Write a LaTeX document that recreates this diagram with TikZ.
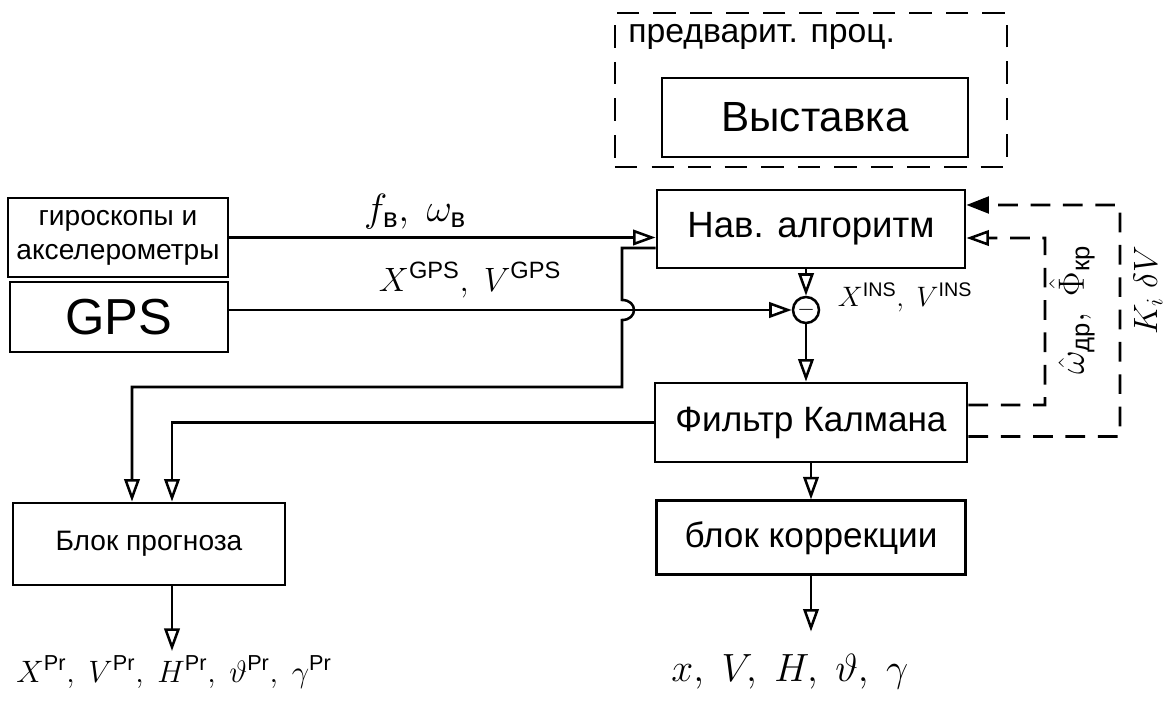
\RequirePackage{fix-cm}
\documentclass[tikz,border=0pt]{standalone}
\usepackage{amsmath}
\usepackage{fontspec}
\setmainfont{Liberation Sans}
\usetikzlibrary{arrows.meta,positioning,calc}

\begin{document}
\begin{tikzpicture}[
    x=0.025cm, y=-0.025cm,
    fs/.style={font=\fontsize{#1}{#1}\selectfont},
    blk/.style={draw, line width=2pt, inner sep=2pt, align=center},
    arr/.style={-{Triangle[open,length=16pt,width=11pt]}, line width=1.8pt},
    fb/.style={dash pattern=on 14pt off 9pt, line width=1.8pt}
]
\useasboundingbox (0,0) rectangle (1167,716);
\node[blk, dash pattern=on 16pt off 10pt, line width=1.8pt, minimum width=9.8cm, minimum height=3.85cm] (pre) at (811,90) {};
\node[anchor=north west, inner sep=0pt, fs=24] (prelbl) at (628,24) {предварит. проц.};
\node[blk, fs=30, minimum width=7.65cm, minimum height=1.975cm] (vyst) at (815,117.5) {Выставка};
\node[blk, fs=20, minimum width=5.5cm, minimum height=1.975cm] (gyro) at (118,237.5) {гироскопы и\\[4pt]акселерометры};
\node[blk, fs=36, minimum width=5.45cm, minimum height=1.75cm] (gps) at (119,317) {GPS};
\node[blk, fs=26, minimum width=7.7cm, minimum height=1.95cm] (nav) at (811,229) {Нав. алгоритм};
\node[draw, circle, line width=1.8pt, minimum size=0.65cm, inner sep=0pt, fs=16] (sum) at (806,310) {$-$};
\node[blk, fs=25, minimum width=7.8cm, minimum height=1.975cm] (kal) at (811,422.5) {Фильтр Калмана};
\node[blk, fs=25, minimum width=7.725cm, minimum height=1.85cm, below=0.9cm of kal] (korr) {блок коррекции};
\node[blk, fs=20, minimum width=6.8cm, minimum height=2.05cm] (prog) at (149,544) {Блок прогноза};
\node[fs=22] (outL) at (174,672) {$X^{\mathrm{Pr}},\ V^{\mathrm{Pr}},\ H^{\mathrm{Pr}},\ \vartheta^{\mathrm{Pr}},\ \gamma^{\mathrm{Pr}}$};
\node[fs=28] (outR) at (790,672) {$x,\ V,\ H,\ \vartheta,\ \gamma$};
\node[fs=28] (fw) at (415,212) {$f_{\text{в}},\ \omega_{\text{в}}$};
\node[fs=24] (xgps) at (470,280) {$X^{\mathrm{GPS}},\ V^{\mathrm{GPS}}$};
\node[fs=20] (xins) at (905,297) {$X^{\mathrm{INS}},\ V^{\mathrm{INS}}$};
\node[fs=26, rotate=90] (omlbl) at (1072,310) {$\hat{\omega}_{\text{др}},\ \hat{\Phi}_{\text{кр}}$};
\node[fs=24, rotate=90] (klbl) at (1148,290) {$K_i\ \delta V$};
\draw[arr] (gyro.east) -- (gyro.east -| nav.west);
\draw[arr] (gps.east |- sum) -- (sum.west);
\draw[arr] (nav.south -| sum) -- (sum.north);
\draw[arr] (sum.south) -- (sum.south |- kal.north);
\draw[arr] ([yshift=-0.475cm]nav.west) -- (622,248) -- (622,300) .. controls (638,300) and (638,320) .. (622,320) -- (622,387) -| ([xshift=-0.425cm]prog.north);
\draw[arr] (kal.west) -| ([xshift=0.575cm]prog.north);
\draw[arr] (kal.south) -- (korr.north);
\draw[arr, shorten >=0.45cm] (korr.south) -- (korr.south |- outR.north);
\draw[arr] ([xshift=0.575cm]prog.south) -- ([xshift=0.575cm]prog.south |- outL.north);
\draw[fb, -{Triangle[open,length=16pt,width=11pt]}] ([yshift=0.4375cm]kal.east) -- (1045,405) -- (1045,238) -- ([yshift=-0.225cm]nav.east);
\draw[fb, -{Triangle[length=16pt,width=12pt]}] ([yshift=-0.35cm]kal.east) -- (1120,436.5) -- (1120,205) -- ([yshift=0.6cm]nav.east);
\end{tikzpicture}
\end{document}
